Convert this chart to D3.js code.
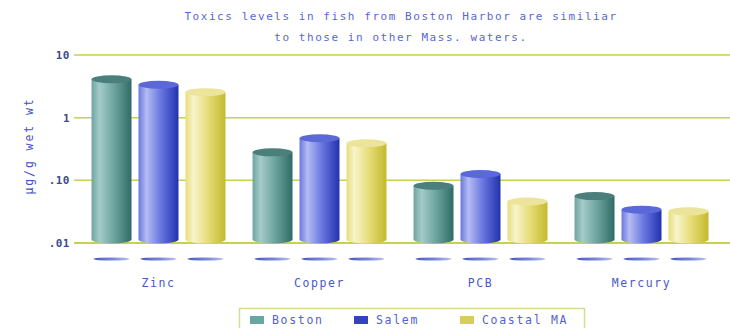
<!DOCTYPE html>
<html>
<head>
<meta charset="utf-8">
<script src="https://cdn.jsdelivr.net/npm/d3@7"></script>
<style>
  html, body { margin: 0; padding: 0; background: #ffffff; }
  svg { display: block; }
  text { font-family: "DejaVu Sans Mono", monospace; }
</style>
</head>
<body>
<svg id="chart" width="730" height="328"></svg>
<script>
// Toxics concentrations in fish tissue (µg/g wet weight), log scale
const categories = ["Zinc", "Copper", "PCB", "Mercury"];
const seriesNames = ["Boston", "Salem", "Coastal MA"];
const bostonValues = [4.1, 0.28, 0.082, 0.056];
const salemValues = [3.35, 0.47, 0.126, 0.034];
const coastalValues = [2.55, 0.39, 0.046, 0.032];
const yTicks = [10, 1, 0.1, 0.01];
const yTickLabels = ["10", "1", ".10", ".01"];
const titleLines = [
  "Toxics levels in fish from Boston Harbor are similiar",
  "to those in other Mass. waters."
];
const yAxisTitle = "µg/g wet wt";

const seriesValues = [bostonValues, salemValues, coastalValues];

// cylinder colour ramps: light edge, mid tone, dark edge, top cap, legend swatch
const palette = {
  "Boston":     { light: "#a4cbc9", mid: "#6ea5a1", dark: "#2f6b66", cap: "#4a7f7b", swatch: "#6aa6a2" },
  "Salem":      { light: "#b4bcf2", mid: "#6a78e0", dark: "#2232ae", cap: "#5a68d8", swatch: "#3444c0" },
  "Coastal MA": { light: "#f8f4cc", mid: "#e6de7a", dark: "#c4b92c", cap: "#ece49a", swatch: "#d6ce5c" }
};

const svg = d3.select("#chart");
const defs = svg.append("defs");

seriesNames.forEach((s, i) => {
  const c = palette[s];
  const g = defs.append("linearGradient").attr("id", "body" + i)
    .attr("x1", "0%").attr("x2", "100%").attr("y1", "0%").attr("y2", "0%");
  g.append("stop").attr("offset", "0%").attr("stop-color", c.mid);
  g.append("stop").attr("offset", "20%").attr("stop-color", c.light);
  g.append("stop").attr("offset", "55%").attr("stop-color", c.mid);
  g.append("stop").attr("offset", "100%").attr("stop-color", c.dark);
});

const shadowGrad = defs.append("linearGradient").attr("id", "shadowGrad")
  .attr("x1", "0%").attr("x2", "100%");
shadowGrad.append("stop").attr("offset", "0%").attr("stop-color", "#4c58c0");
shadowGrad.append("stop").attr("offset", "55%").attr("stop-color", "#7c88dc");
shadowGrad.append("stop").attr("offset", "100%").attr("stop-color", "#b8c0f0");

defs.append("filter").attr("id", "soft").attr("x", "-20%").attr("y", "-200%")
  .attr("width", "140%").attr("height", "500%")
  .append("feGaussianBlur").attr("stdDeviation", "0.7");

// scales
const y = d3.scaleLog().domain([0.01, 10]).range([243, 55]);
const x0 = d3.scaleBand().domain(categories).range([78, 722])
  .paddingInner(0.168).paddingOuter(0.084);
const x1 = d3.scaleBand().domain(seriesNames).range([0, x0.bandwidth()])
  .paddingInner(0.149).paddingOuter(0);

// title
svg.append("g").selectAll("text").data(titleLines).join("text")
  .attr("x", 401).attr("y", (d, i) => 20 + i * 21)
  .attr("text-anchor", "middle")
  .attr("font-size", 11).attr("letter-spacing", 1.55)
  .attr("fill", "#5866d2")
  .text(d => d);

// gridlines
const gridColor = "#c6d052";
svg.append("g").selectAll("line").data(yTicks).join("line")
  .attr("x1", 74).attr("x2", 730)
  .attr("y1", d => y(d)).attr("y2", d => y(d))
  .attr("stroke", gridColor)
  .attr("stroke-width", d => d === 0.01 ? 2 : 1.5);

// y axis tick labels
const yAxis = d3.axisLeft(y).tickValues(yTicks)
  .tickFormat((d, i) => yTickLabels[i]).tickSize(0).tickPadding(0);
const yAxisG = svg.append("g").attr("transform", "translate(70,0)").call(yAxis);
yAxisG.select(".domain").remove();
yAxisG.selectAll("text")
  .attr("font-family", "'DejaVu Sans Mono', monospace")
  .attr("font-size", 11).attr("font-weight", "bold")
  .attr("letter-spacing", 0.5)
  .attr("fill", "#3e4c86");

// y axis title
svg.append("text")
  .attr("transform", "translate(29,146) rotate(-90)")
  .attr("text-anchor", "middle").attr("dominant-baseline", "central")
  .attr("font-size", 11.5).attr("letter-spacing", 1.9)
  .attr("fill", "#4452c8")
  .text(yAxisTitle);

// bars as cylinders
const ry = 4;
const rows = [];
categories.forEach((cat, ci) => {
  seriesNames.forEach((s, si) => {
    rows.push({ cat, s, si, v: seriesValues[si][ci] });
  });
});

const bars = svg.append("g").selectAll("g").data(rows).join("g")
  .attr("transform", d => `translate(${x0(d.cat) + x1(d.s)},0)`);
const bw = x1.bandwidth();
const baseY = y(0.01) - ry + 0.5;

// reflections under the baseline
bars.append("ellipse")
  .attr("cx", bw / 2).attr("cy", 259)
  .attr("rx", bw / 2 - 2).attr("ry", 1.6)
  .attr("fill", "url(#shadowGrad)")
  .attr("filter", "url(#soft)");

// bottom cap
bars.append("ellipse")
  .attr("cx", bw / 2).attr("cy", baseY)
  .attr("rx", bw / 2).attr("ry", ry)
  .attr("fill", d => `url(#body${d.si})`);

// body
bars.append("rect")
  .attr("x", 0).attr("width", bw)
  .attr("y", d => y(d.v))
  .attr("height", d => baseY - y(d.v))
  .attr("fill", d => `url(#body${d.si})`);

// top cap
bars.append("ellipse")
  .attr("cx", bw / 2).attr("cy", d => y(d.v))
  .attr("rx", bw / 2).attr("ry", ry)
  .attr("fill", d => palette[d.s].cap);

// category labels
const xAxis = d3.axisBottom(x0).tickSize(0).tickPadding(0);
const xAxisG = svg.append("g").attr("transform", "translate(0,279)").call(xAxis);
xAxisG.select(".domain").remove();
xAxisG.selectAll("text")
  .attr("font-family", "'DejaVu Sans Mono', monospace")
  .attr("font-size", 11.5).attr("letter-spacing", 1.6)
  .attr("fill", "#4a58c6");

// legend
const legend = svg.append("g");
legend.append("rect")
  .attr("x", 239.5).attr("y", 308.5).attr("width", 345).attr("height", 30)
  .attr("fill", "#ffffff").attr("stroke", "#d6dc8e").attr("stroke-width", 1.5);
const legendX = [250, 354, 460];
const items = legend.selectAll("g.item").data(seriesNames).join("g")
  .attr("class", "item")
  .attr("transform", (d, i) => `translate(${legendX[i]},0)`);
items.append("rect")
  .attr("x", 0).attr("y", 316).attr("width", 14).attr("height", 8)
  .attr("fill", d => palette[d].swatch);
items.append("text")
  .attr("x", 22).attr("y", 324)
  .attr("font-size", 11.5).attr("letter-spacing", 1.7)
  .attr("fill", "#5462cc")
  .text(d => d);
</script>
</body>
</html>
